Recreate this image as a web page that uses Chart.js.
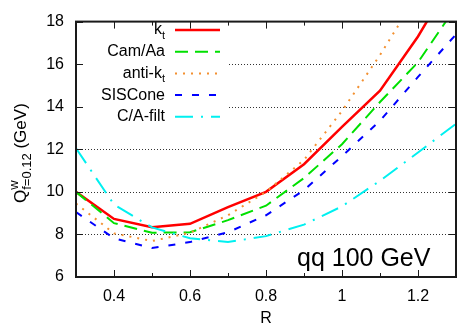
<!DOCTYPE html>
<html>
<head>
<meta charset="utf-8">
<script src="https://cdn.jsdelivr.net/npm/chart.js@4"></script>
<style>
  html, body { margin: 0; padding: 0; background: #fff; }
  canvas { display: block; }
</style>
</head>
<body>
<canvas id="grafico" width="457" height="326"></canvas>
<script>
// datos
const radios = [0.3, 0.4, 0.5, 0.6, 0.7, 0.8, 0.9, 1.0, 1.1, 1.2, 1.3];
const kt = [10.0, 8.73, 8.34, 8.5, 9.28, 10.0, 11.3, 13.05, 14.75, 17.3, 20.3];
const camAa = [10.0, 8.53, 8.08, 8.1, 8.67, 9.35, 10.65, 12.24, 14.22, 16.09, 18.7];
const antiKt = [9.45, 8.05, 7.69, 8.08, 8.9, 10.0, 11.5, 13.8, 16.43, 19.3, 22.0];
const sisCone = [9.05, 7.82, 7.36, 7.64, 8.1, 8.9, 10.08, 11.68, 13.34, 15.4, 17.4];
const caFilt = [12.05, 9.4, 8.33, 7.82, 7.64, 7.92, 8.46, 9.32, 10.52, 11.85, 13.2];

const nombres = ['k', 'Cam/Aa', 'anti-k', 'SISCone', 'C/A-filt'];
const subindices = ['t', '', 't', '', ''];
const ticksX = [0.4, 0.6, 0.8, 1.0, 1.2];
const ticksXmenores = [0.3, 0.5, 0.7, 0.9, 1.1, 1.3];
const ticksY = [6, 8, 10, 12, 14, 16, 18];
const rejillaY = [8, 10, 12, 14, 16];

const fuente = "'Liberation Sans', Arial, Helvetica, sans-serif";

function serie(valores) {
  return radios.map((r, i) => ({ x: r, y: valores[i] }));
}

const estilos = [
  { color: '#ff0000', ancho: 2.5, guion: [] },
  { color: '#00e000', ancho: 2, guion: [13, 7] },
  { color: '#f39030', ancho: 2, guion: [2, 6] },
  { color: '#0000ff', ancho: 2, guion: [7, 10] },
  { color: '#00f0f0', ancho: 2, guion: [18, 8, 2, 8] }
];
const valores = [kt, camAa, antiKt, sisCone, caFilt];

const datasets = valores.map((v, i) => ({
  label: nombres[i] + subindices[i],
  data: serie(v),
  borderColor: estilos[i].color,
  borderWidth: estilos[i].ancho,
  borderDash: estilos[i].guion,
  pointRadius: 0,
  tension: 0,
  fill: false,
  order: 4 - i
}));

// rejilla punteada, marco, ticks hacia dentro, leyenda y textos
const extras = {
  id: 'extras',
  beforeDatasetsDraw(chart) {
    const ctx = chart.ctx;
    const a = chart.chartArea;
    const sy = chart.scales.y;
    ctx.save();
    ctx.strokeStyle = '#333';
    ctx.lineWidth = 1;
    ctx.setLineDash([1, 2]);
    ctx.beginPath();
    rejillaY.forEach(v => {
      const y = Math.round(sy.getPixelForValue(v)) + 0.5;
      ctx.moveTo(a.left, y);
      ctx.lineTo(a.right, y);
    });
    ctx.stroke();
    ctx.setLineDash([]);
    ctx.fillStyle = '#fff';
    ctx.fillRect(77, 16, 152, 112);
    ctx.restore();
  },
  afterDatasetsDraw(chart) {
    const ctx = chart.ctx;
    const a = chart.chartArea;
    const sx = chart.scales.x;
    const sy = chart.scales.y;
    ctx.save();

    // leyenda
    ctx.textBaseline = 'middle';
    chart.data.datasets.forEach((d, i) => {
      const y = 30 + i * 21.7;
      ctx.font = '16px ' + fuente;
      const w1 = ctx.measureText(nombres[i]).width;
      ctx.font = '11px ' + fuente;
      const w2 = subindices[i] ? ctx.measureText(subindices[i]).width : 0;
      const x0 = 165 - w1 - w2;
      ctx.fillStyle = '#000';
      ctx.textAlign = 'left';
      ctx.font = '16px ' + fuente;
      ctx.fillText(nombres[i], x0, y);
      if (subindices[i]) {
        ctx.font = '11px ' + fuente;
        ctx.fillText(subindices[i], x0 + w1, y + 6);
      }
      ctx.beginPath();
      ctx.strokeStyle = d.borderColor;
      ctx.lineWidth = d.borderWidth;
      ctx.setLineDash(d.borderDash);
      ctx.moveTo(175, y);
      ctx.lineTo(220, y);
      ctx.stroke();
    });
    ctx.setLineDash([]);

    // marco
    ctx.strokeStyle = '#1a1a1a';
    ctx.lineWidth = 2;
    ctx.strokeRect(a.left, a.top, a.right - a.left, a.bottom - a.top);

    ctx.lineWidth = 1;
    ctx.beginPath();
    ticksY.forEach(v => {
      const y = Math.round(sy.getPixelForValue(v)) + 0.5;
      ctx.moveTo(a.left, y); ctx.lineTo(a.left + 7, y);
      ctx.moveTo(a.right, y); ctx.lineTo(a.right - 7, y);
    });
    ticksX.forEach(v => {
      const x = Math.round(sx.getPixelForValue(v)) + 0.5;
      ctx.moveTo(x, a.bottom); ctx.lineTo(x, a.bottom - 7);
      ctx.moveTo(x, a.top); ctx.lineTo(x, a.top + 7);
    });
    ticksXmenores.forEach(v => {
      const x = Math.round(sx.getPixelForValue(v)) + 0.5;
      ctx.moveTo(x, a.bottom); ctx.lineTo(x, a.bottom - 4);
      ctx.moveTo(x, a.top); ctx.lineTo(x, a.top + 4);
    });
    ctx.stroke();

    // texto del proceso
    ctx.fillStyle = '#000';
    ctx.textAlign = 'left';
    ctx.textBaseline = 'alphabetic';
    ctx.font = '25px ' + fuente;
    ctx.fillText('qq 100 GeV', 297, 266);

    // titulo eje x
    ctx.font = '16px ' + fuente;
    ctx.textAlign = 'center';
    ctx.textBaseline = 'middle';
    ctx.fillText('R', (a.left + a.right) / 2, 319);

    // titulo eje y
    ctx.translate(26, 203);
    ctx.rotate(-Math.PI / 2);
    ctx.textAlign = 'left';
    ctx.textBaseline = 'alphabetic';
    ctx.font = '17px ' + fuente;
    ctx.fillText('Q', 0, 0);
    const wq = ctx.measureText('Q').width;
    ctx.font = '13px ' + fuente;
    ctx.fillText('w', wq, -8);
    ctx.fillText('f=0.12', wq, 5);
    const ws = Math.max(ctx.measureText('w').width, ctx.measureText('f=0.12').width);
    ctx.font = '17px ' + fuente;
    ctx.fillText(' (GeV)', wq + ws, 0);

    ctx.restore();
  }
};

new Chart(document.getElementById('grafico'), {
  type: 'line',
  data: { datasets },
  options: {
    responsive: false,
    animation: false,
    devicePixelRatio: 1,
    layout: { padding: { top: 15, right: 1, left: 0, bottom: 0 } },
    plugins: { legend: { display: false }, tooltip: { enabled: false } },
    scales: {
      x: {
        type: 'linear',
        min: 0.3,
        max: 1.3,
        afterBuildTicks: s => { s.ticks = ticksX.map(v => ({ value: v })); },
        afterFit: s => { s.height = 49; },
        grid: { display: false, drawTicks: false },
        border: { display: false },
        ticks: {
          color: '#000',
          font: { size: 16, family: fuente },
          padding: 10,
          maxRotation: 0,
          callback: v => String(Math.round(v * 10) / 10)
        }
      },
      y: {
        type: 'linear',
        min: 6,
        max: 18,
        afterBuildTicks: s => { s.ticks = ticksY.map(v => ({ value: v })); },
        afterFit: s => { s.width = 76; },
        grid: { display: false, drawTicks: false },
        border: { display: false },
        ticks: {
          color: '#000',
          font: { size: 16, family: fuente },
          padding: 12
        }
      }
    }
  },
  plugins: [extras]
});
</script>
</body>
</html>
